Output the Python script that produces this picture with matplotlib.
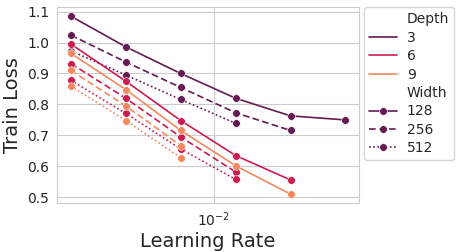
import matplotlib
matplotlib.use("Agg")
import matplotlib.pyplot as plt
import seaborn as sns
from matplotlib.lines import Line2D

# learning rates (shared grid, log spaced)
learning_rates = [0.00165, 0.0033, 0.0066, 0.0132, 0.0264, 0.0528]

depths = [3, 6, 9]
widths = [128, 256, 512]

# train loss per (depth, width)
loss_d3_w128 = [1.085, 0.986, 0.900, 0.820, 0.763, 0.750]
loss_d3_w256 = [1.024, 0.937, 0.855, 0.773, 0.716]
loss_d3_w512 = [0.973, 0.895, 0.816, 0.739]
loss_d6_w128 = [0.995, 0.875, 0.748, 0.635, 0.556]
loss_d6_w256 = [0.932, 0.820, 0.695, 0.582]
loss_d6_w512 = [0.878, 0.771, 0.656, 0.558]
loss_d9_w128 = [0.965, 0.848, 0.716, 0.602, 0.510]
loss_d9_w256 = [0.910, 0.795, 0.667]
loss_d9_w512 = [0.859, 0.748, 0.628]

losses = {
    (3, 128): loss_d3_w128, (3, 256): loss_d3_w256, (3, 512): loss_d3_w512,
    (6, 128): loss_d6_w128, (6, 256): loss_d6_w256, (6, 512): loss_d6_w512,
    (9, 128): loss_d9_w128, (9, 256): loss_d9_w256, (9, 512): loss_d9_w512,
}

sns.set_style("whitegrid")
colors = {3: "#641a52", 6: "#cb1b4f", 9: "#f4895f"}
styles = {128: "-", 256: (0, (4, 2)), 512: (0, (1, 1.5))}

fig = plt.figure(figsize=(4.57, 2.52), dpi=100)
ax = fig.add_axes([0.125, 0.194, 0.661, 0.777])

for d in depths:
    for w in widths:
        y = losses[(d, w)]
        ax.plot(learning_rates[:len(y)], y, color=colors[d], linestyle=styles[w],
                lw=1.2, marker="o", ms=5.5, mec="white", mew=0.4)

ax.set_xscale("log")
ax.set_xlabel("Learning Rate", fontsize=14, labelpad=2)
ax.set_ylabel("Train Loss", fontsize=14, labelpad=4)
ax.tick_params(axis="both", labelsize=10, pad=2)
ax.set_yticks([0.5, 0.6, 0.7, 0.8, 0.9, 1.0, 1.1])
ax.minorticks_off()
for s in ax.spines.values():
    s.set_color("#cccccc")

handles = [Line2D([], [], color="none", label="Depth")]
for d in depths:
    handles.append(Line2D([], [], color=colors[d], lw=1.2, label=str(d)))
handles.append(Line2D([], [], color="none", label="Width"))
for w in widths:
    handles.append(Line2D([], [], color=colors[3], linestyle=styles[w], lw=1.2,
                          marker="o", ms=5.5, mec="white", mew=0.4, label=str(w)))
ax.legend(handles=handles, loc="upper left", bbox_to_anchor=(1.017, 1.0),
          fontsize=10, frameon=True, handlelength=2.0, labelspacing=0.32,
          borderaxespad=0, borderpad=0.35, handletextpad=0.7)

fig.savefig("out.png", dpi=100)
